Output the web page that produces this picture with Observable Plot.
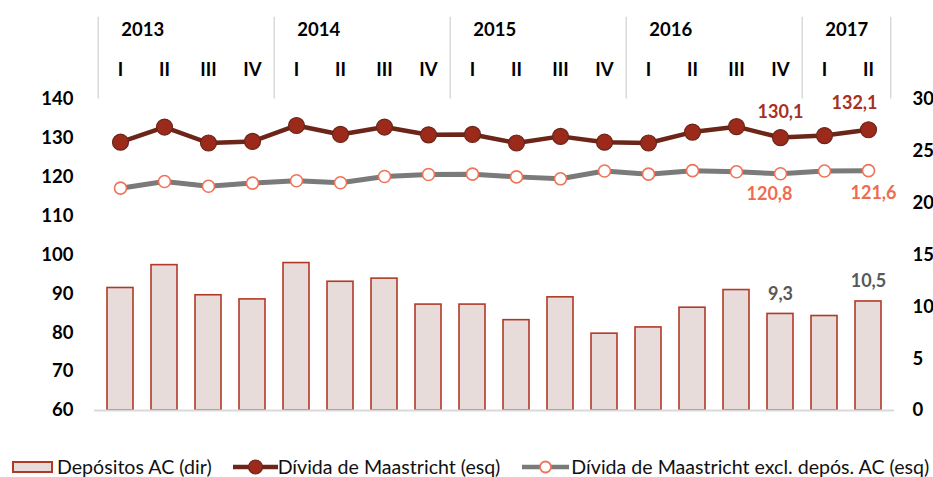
<!DOCTYPE html>
<html>
<head>
<meta charset="utf-8">
<script src="https://cdn.jsdelivr.net/npm/d3@7"></script>
<script src="https://cdn.jsdelivr.net/npm/@observablehq/plot@0.6"></script>
<style>
  html, body { margin: 0; padding: 0; background: #fff; }
  body { width: 933px; height: 477px; overflow: hidden; font-family: Lato, "Open Sans", sans-serif; }
  #legend { position: relative; height: 27px; display: flex; align-items: center; padding-left: 12px; font-size: 19.6px; color: #111; padding-top: 6px; box-sizing: border-box; }
  #legend .item { display: flex; align-items: center; white-space: nowrap; }
  #legend svg { display: block; }
</style>
</head>
<body>
<div id="chart"></div>
<div id="legend">
  <div class="item" style="margin-right:21px">
    <svg width="41" height="12" style="margin-right:4px"><rect x="1" y="1" width="39" height="10" fill="#e8dcda" stroke="#b03a27" stroke-width="2"/></svg>
    <span>Depósitos AC (dir)</span>
  </div>
  <div class="item" style="margin-right:22px">
    <svg width="45" height="18"><line x1="0" x2="45" y1="9" y2="9" stroke="#6b2519" stroke-width="4.5"/><circle cx="22.5" cy="9" r="7" fill="#9b2a1a" stroke="#6b2519" stroke-width="1.2"/></svg>
    <span>Dívida de Maastricht (esq)</span>
  </div>
  <div class="item">
    <svg width="47" height="18" style="margin-right:2px"><line x1="0" x2="47" y1="9" y2="9" stroke="#7a7a7a" stroke-width="4.5"/><circle cx="23.5" cy="9" r="5.5" fill="#fff" stroke="#f07257" stroke-width="1.8"/></svg>
    <span>Dívida de Maastricht excl. depós. AC (esq)</span>
  </div>
</div>
<script>
// ---- Data ----
const years = ["2013","2013","2013","2013","2014","2014","2014","2014","2015","2015","2015","2015","2016","2016","2016","2016","2017","2017"];
const quarters = ["I","II","III","IV","I","II","III","IV","I","II","III","IV","I","II","III","IV","I","II"];
const maastricht = [128.9,132.8,128.7,129.1,133.2,130.9,132.8,130.8,130.9,128.7,130.4,128.9,128.7,131.5,132.9,130.1,130.6,132.1];
const exclDepositos = [117.1,118.8,117.6,118.4,119.0,118.5,120.1,120.6,120.7,120.0,119.5,121.5,120.7,121.6,121.3,120.8,121.5,121.6];
const depositos = [11.8,14.0,11.1,10.7,14.2,12.4,12.7,10.2,10.2,8.7,10.9,7.4,8.0,9.9,11.6,9.3,9.1,10.5];
const leftTicks = [60,70,80,90,100,110,120,130,140];
const rightTicks = [0,5,10,15,20,25,30];

// ---- Build table ----
const LMIN = 60, LMAX = 140, RMAX = 30;
const toLeft = v => LMIN + v * (LMAX - LMIN) / RMAX;
const fromLeft = v => (v - LMIN) * RMAX / (LMAX - LMIN);
const data = years.map((y, i) => ({
  key: y + "-" + quarters[i], year: y, q: quarters[i], i,
  m: maastricht[i], e: exclDepositos[i], d: depositos[i]
}));
const keys = data.map(d => d.key);
const fmt = v => v.toFixed(1).replace(".", ",");
const firstOfYear = data.filter((d, i) => i === 0 || data[i-1].year !== d.year);
const yearCenters = data.filter((d, i) => i + 1 < data.length && data[i+1].year === d.year && (i === 0 || data[i-1].year !== d.year));
const p16 = [data[15]], p18 = [data[17]];
const HALF = 800 / 18 / 2;
const FS = 18.5;

const chart = Plot.plot({
  width: 933,
  height: 450,
  marginLeft: 94,
  marginRight: 39,
  marginTop: 98.5,
  marginBottom: 40,
  style: {fontFamily: "Lato, sans-serif", background: "#fff", color: "#000", overflow: "visible"},
  x: {type: "band", domain: keys, paddingInner: 0.42, paddingOuter: 0.21, axis: null},
  y: {domain: [LMIN, LMAX], axis: null},
  marks: [
    // header dividers
    Plot.ruleX(firstOfYear, {x: "key", dx: -HALF, y1: LMAX, y2: 161, stroke: "#d9d9d9", strokeWidth: 1.5}),
    Plot.ruleX([data[data.length-1]], {x: "key", dx: HALF, y1: LMAX, y2: 161, stroke: "#d9d9d9", strokeWidth: 1.5}),
    // header labels
    Plot.text(data, {x: "key", text: "q", frameAnchor: "top", lineAnchor: "middle", dy: -28.5, fontSize: FS, fontWeight: "bold", fill: "#000"}),
    Plot.text(yearCenters, {x: "key", text: "year", frameAnchor: "top", lineAnchor: "middle", dx: HALF, dy: -68.5, fontSize: FS, fontWeight: "bold", fill: "#000"}),
    // axes
    Plot.axisY(leftTicks, {anchor: "left", tickSize: 0, tickPadding: 21, fontSize: FS, fontWeight: "bold", fill: "#000"}),
    Plot.axisY(rightTicks.map(toLeft), {anchor: "right", tickSize: 0, tickPadding: 18, tickFormat: v => String(Math.round(fromLeft(v))), fontSize: FS, fontWeight: "bold", fill: "#000"}),
    // bars (right axis)
    Plot.barY(data, {x: "key", y1: LMIN, y2: d => toLeft(d.d), fill: "#e8dcda", stroke: "#b03a27", strokeWidth: 1.6}),
    Plot.ruleY([LMIN], {stroke: "#d9d9d9", strokeWidth: 2}),
    // lines
    Plot.line(data, {x: "key", y: "e", stroke: "#7a7a7a", strokeWidth: 5}),
    Plot.dot(data, {x: "key", y: "e", r: 6, fill: "#fff", stroke: "#f07257", strokeWidth: 1.6}),
    Plot.line(data, {x: "key", y: "m", stroke: "#6b2519", strokeWidth: 4.5}),
    Plot.dot(data, {x: "key", y: "m", r: 8, fill: "#9b2a1a", stroke: "#6b2519", strokeWidth: 1.2}),
    // value labels
    Plot.text(p16, {x: "key", y: "m", text: d => fmt(d.m), dy: -25, fontSize: 18, fontWeight: "bold", fill: "#a5301f"}),
    Plot.text(p18, {x: "key", y: "m", text: d => fmt(d.m), dx: -14, dy: -27, fontSize: 18, fontWeight: "bold", fill: "#a5301f"}),
    Plot.text(p16, {x: "key", y: "e", text: d => fmt(d.e), dx: -11, dy: 20, fontSize: 18, fontWeight: "bold", fill: "#f06b50"}),
    Plot.text(p18, {x: "key", y: "e", text: d => fmt(d.e), dx: 5, dy: 23, fontSize: 18, fontWeight: "bold", fill: "#f06b50"}),
    Plot.text([data[15], data[17]], {x: "key", y: d => toLeft(d.d), text: d => fmt(d.d), dy: -20, fontSize: 18, fontWeight: "bold", fill: "#595959"})
  ]
});
document.getElementById("chart").appendChild(chart);
</script>
</body>
</html>
